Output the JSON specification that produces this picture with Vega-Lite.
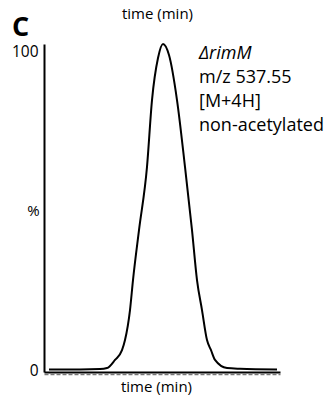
{
  "$schema": "https://vega.github.io/schema/vega-lite/v6.json",
  "autosize": "none",
  "width": 236,
  "height": 328,
  "padding": {"left": 44, "top": 44, "right": 49, "bottom": 27},
  "background": "white",
  "config": {
    "view": {"stroke": null},
    "font": "Open Sans",
    "axis": {"labelFont": "Open Sans", "titleFont": "Open Sans", "titleFontWeight": "normal", "grid": false}
  },
  "title": {"text": "C", "anchor": "start", "frame": "group", "fontSize": 27, "fontWeight": "bold", "font": "Open Sans", "color": "black", "dx": -32, "dy": 40},
  "datasets": {
    "peak": [
      {"time": 5, "pct": 0.2}, {"time": 36, "pct": 0.2}, {"time": 56, "pct": 0.3}, {"time": 63, "pct": 0.6},
      {"time": 71, "pct": 3.1}, {"time": 78, "pct": 6.1}, {"time": 81, "pct": 9.2}, {"time": 86, "pct": 18.4},
      {"time": 89, "pct": 27.6}, {"time": 95, "pct": 42.9}, {"time": 103, "pct": 62.3}, {"time": 108, "pct": 82.8},
      {"time": 114, "pct": 95.7}, {"time": 119, "pct": 100}, {"time": 125, "pct": 96.6}, {"time": 133, "pct": 82.8},
      {"time": 141, "pct": 62.3}, {"time": 148, "pct": 42.9}, {"time": 153, "pct": 27.6}, {"time": 158, "pct": 18.4},
      {"time": 163, "pct": 9.2}, {"time": 167, "pct": 6.1}, {"time": 171, "pct": 3.1}, {"time": 183, "pct": 0.6},
      {"time": 196, "pct": 0.4}, {"time": 233, "pct": 0.2}
    ],
    "italic": [{"label": "ΔrimM", "time": 155, "pct": 97.0}],
    "plain": [
      {"label": "m/z 537.55", "time": 155, "pct": 89.6},
      {"label": "[M+4H]", "time": 155, "pct": 82.2},
      {"label": "non-acetylated", "time": 155, "pct": 74.8}
    ]
  },
  "resolve": {"axis": {"x": "independent"}},
  "layer": [
    {
      "data": {"name": "peak"},
      "mark": {"type": "line", "color": "black", "strokeWidth": 2, "clip": false, "interpolate": "monotone"},
      "encoding": {
        "x": {"field": "time", "type": "quantitative", "scale": {"domain": [0, 236], "nice": false, "zero": false},
          "axis": {"orient": "bottom", "title": "time (min)", "labels": false, "ticks": false, "domainColor": "black", "domainWidth": 2,
            "titleFontSize": 15, "titleColor": "black", "titleX": 112, "titleY": 14, "titleBaseline": "middle", "titleAlign": "center"}},
        "y": {"field": "pct", "type": "quantitative", "scale": {"domain": [-0.6, 100], "nice": false, "zero": false},
          "axis": {"values": [0, 100], "ticks": false, "domainColor": "black", "domainWidth": 2, "labelFontSize": 15.5, "labelColor": "black",
            "labelPadding": 6, "labelFlush": true, "title": "%", "titleAngle": 0, "titleFontSize": 15, "titleColor": "black",
            "titleX": -11, "titleY": 166, "titleAlign": "center", "titleBaseline": "middle"}}
      }
    },
    {
      "data": {"name": "italic"},
      "mark": {"type": "text", "align": "left", "baseline": "middle", "fontSize": 18, "fontStyle": "italic", "color": "black"},
      "encoding": {
        "x": {"field": "time", "type": "quantitative", "scale": {"domain": [0, 236], "nice": false, "zero": false},
          "axis": {"orient": "top", "title": "time (min)", "labels": false, "ticks": false, "domain": false,
            "titleFontSize": 15, "titleColor": "black", "titleX": 113, "titleY": -31, "titleBaseline": "middle", "titleAlign": "center"}},
        "y": {"field": "pct", "type": "quantitative"},
        "text": {"field": "label"}
      }
    },
    {
      "data": {"name": "plain"},
      "mark": {"type": "text", "align": "left", "baseline": "middle", "fontSize": 18, "color": "black"},
      "encoding": {
        "x": {"field": "time", "type": "quantitative", "scale": {"domain": [0, 236], "nice": false, "zero": false},
          "axis": {"orient": "bottom", "title": null, "labels": false, "ticks": false, "offset": 2, "domainColor": "#777", "domainWidth": 1.5, "domainDash": [4, 2]}},
        "y": {"field": "pct", "type": "quantitative"},
        "text": {"field": "label"}
      }
    }
  ]
}
